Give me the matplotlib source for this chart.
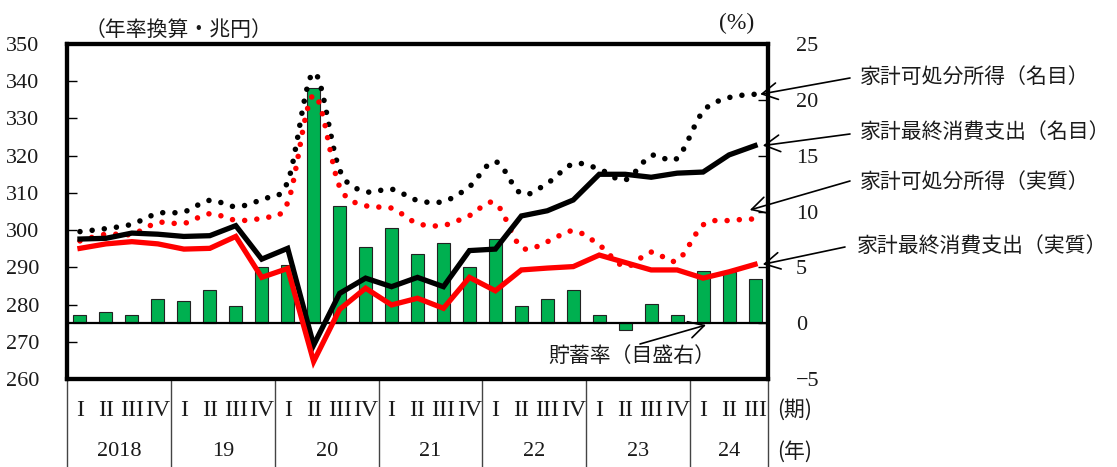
import matplotlib
matplotlib.use("Agg")
import matplotlib.pyplot as plt
from matplotlib.path import Path
from matplotlib.patches import PathPatch
from matplotlib.transforms import blended_transform_factory

# ---- data (2018 Q1 .. 2024 Q3) ----
years = ["2018", "19", "20", "21", "22", "23", "24"]
quarter_names = ["I", "II", "III", "IV"]
n_quarters = 27

# 家計可処分所得（名目） 兆円
income_nominal = [299.6, 300.4, 301.6, 304.5, 304.9, 308.0, 306.3, 308.3, 313.0,
                  342.3, 316.2, 310.4, 311.0, 308.0, 307.7, 311.7, 318.4, 309.8,
                  312.6, 317.8, 316.4, 313.5, 320.0, 319.3, 331.9, 335.6, 336.5]
# 家計最終消費支出（名目）
consumption_nominal = [297.6, 297.8, 299.2, 298.9, 298.3, 298.5, 301.2, 292.2, 295.1,
                       269.1, 283.0, 287.1, 284.8, 287.3, 284.8, 294.5, 294.9, 303.8,
                       305.2, 308.1, 315.0, 315.0, 314.2, 315.3, 315.6, 320.2, 322.7]
# 家計可処分所得（実質）
income_real = [297.1, 298.9, 298.9, 302.0, 301.8, 304.4, 302.7, 303.3, 307.4,
               336.3, 311.7, 306.6, 305.9, 301.8, 301.3, 303.9, 307.2, 295.4,
               296.9, 299.8, 296.0, 290.2, 294.1, 291.8, 301.4, 302.6, 303.0]
# 家計最終消費支出（実質）
consumption_real = [295.1, 296.3, 296.9, 296.3, 294.9, 295.1, 298.3, 287.3, 289.7,
                    264.7, 278.7, 284.4, 279.9, 281.7, 279.0, 287.3, 283.7, 289.3,
                    289.8, 290.2, 293.3, 291.3, 289.3, 289.3, 287.1, 288.8, 290.8]
# 貯蓄率 (%)
saving_rate = [0.7, 1.0, 0.7, 2.2, 2.0, 3.0, 1.5, 5.0, 5.2,
               21.1, 10.5, 6.8, 8.5, 6.15, 7.2, 5.0, 7.5, 1.5,
               2.2, 3.0, 0.7, -0.6, 1.7, 0.7, 4.7, 4.6, 4.0]

left_ticks = [260, 270, 280, 290, 300, 310, 320, 330, 340, 350]
right_ticks = [-5, 0, 5, 10, 15, 20, 25]

SERIF = ["Liberation Serif", "Noto Sans CJK JP"]
JP = ["Noto Sans CJK JP", "DejaVu Sans"]
TXT = "#1a1a1a"

W, H = 1117, 467
fig = plt.figure(figsize=(W / 100, H / 100), dpi=100)
ax = fig.add_axes([67 / W, 1 - 379 / H, (768 - 67) / W, (379 - 44) / H])
ax2 = ax.twinx()
x = list(range(n_quarters))

# bars: saving rate on the right-hand scale
ax.bar(x, saving_rate, width=0.5, color="#00B050", edgecolor="#222222",
       linewidth=0.8, zorder=2)
ax.axhline(0, color="black", lw=1.6, zorder=3)
ax.set_ylim(-5, 25)
ax.set_xlim(-0.5, n_quarters - 0.5)
ax.set_xticks([])
ax.yaxis.tick_right()
ax.set_yticks(right_ticks)
ax.set_yticklabels([("−" + str(-v)) if v < 0 else str(v) for v in right_ticks],
                   family=SERIF, fontsize=16, color=TXT)
ax.tick_params(axis="y", direction="in", length=7, width=1, pad=20)
for s in ax.spines.values():
    s.set_linewidth(3.0)

# lines on the left-hand scale
ax2.set_ylim(260, 350)
ax2.set_xlim(-0.5, n_quarters - 0.5)
ax2.set_xticks([])
ax2.yaxis.tick_left()
ax2.set_yticks(left_ticks)
ax2.set_yticklabels([str(v) for v in left_ticks], family=SERIF, fontsize=16, color=TXT)
ax2.tick_params(axis="y", direction="in", length=7, width=1, pad=20)
for s in ax2.spines.values():
    s.set_linewidth(3.0)


def smooth_path(xs, ys):
    """Catmull-Rom style cubic Bezier path through the points."""
    verts = [(xs[0], ys[0])]
    codes = [Path.MOVETO]
    n = len(xs)
    for i in range(n - 1):
        p0 = (xs[i - 1], ys[i - 1]) if i > 0 else (xs[i], ys[i])
        p1 = (xs[i], ys[i])
        p2 = (xs[i + 1], ys[i + 1])
        p3 = (xs[i + 2], ys[i + 2]) if i + 2 < n else p2
        c1 = (p1[0] + (p2[0] - p0[0]) / 6, p1[1] + (p2[1] - p0[1]) / 6)
        c2 = (p2[0] - (p3[0] - p1[0]) / 6, p2[1] - (p3[1] - p1[1]) / 6)
        verts += [c1, c2, p2]
        codes += [Path.CURVE4] * 3
    return Path(verts, codes)


for series, color in [(income_nominal, "black"), (income_real, "#FF0000")]:
    patch = PathPatch(smooth_path(x, series), fill=False, edgecolor=color,
                      linewidth=4.0, linestyle=(0, (0.001, 2.2)),
                      transform=ax2.transData, zorder=4)
    patch.set_capstyle("round")
    ax2.add_patch(patch)

ax2.plot(x, consumption_nominal, color="black", lw=3.8, solid_joinstyle="miter", zorder=5)
ax2.plot(x, consumption_real, color="#FF0000", lw=3.8, solid_joinstyle="miter", zorder=5)

# category table below the plot
tb = blended_transform_factory(ax.transData, ax.transAxes)
bottom_frac = -(H - 379) / (379 - 44) - 0.02
for b in [-0.5 + 4 * k for k in range(7)] + [n_quarters - 0.5]:
    ax.plot([b, b], [0, bottom_frac], transform=tb, color="#444444", lw=1.0,
            clip_on=False, zorder=1)
q_y = -(410 - 379) / (379 - 44)
y_y = -(452 - 379) / (379 - 44)
for i in range(n_quarters):
    ax.text(i, q_y, quarter_names[i % 4], transform=tb, ha="center", va="center",
            family=SERIF, fontsize=17, color=TXT)
for k, yr in enumerate(years):
    start = 4 * k
    end = min(4 * k + 3, n_quarters - 1)
    ax.text((start + end) / 2, y_y, yr, transform=tb, ha="center", va="center",
            family=SERIF, fontsize=16, color=TXT)
fig.text(777 / W, 1 - 410 / H, "(期)", family=JP, fontsize=15, ha="left",
         va="center", color=TXT)
fig.text(777 / W, 1 - 452 / H, "(年)", family=JP, fontsize=15, ha="left",
         va="center", color=TXT)

# unit captions
fig.text(85 / W, 1 - 30 / H, "（年率換算・兆円）", family=JP, fontsize=15,
         ha="left", va="center", color=TXT)
fig.text(737 / W, 1 - 23 / H, "(%)", family=SERIF, fontsize=17,
         ha="center", va="center", color=TXT)

# series labels with arrows
arrow = dict(arrowstyle="->,head_length=0.55,head_width=0.3", color="black",
             lw=1.2, mutation_scale=20, shrinkA=0, shrinkB=0)
labels = [
    ("家計可処分所得（名目）", 860, 77, (850, 78), (26.2, income_nominal[-1])),
    ("家計最終消費支出（名目）", 860, 133, (850, 134), (26.3, consumption_nominal[-1])),
    ("家計可処分所得（実質）", 860, 182, (850, 181), (25.8, income_real[-1] + 2.4)),
    ("家計最終消費支出（実質）", 857, 247, (845, 247), (26.3, consumption_real[-1])),
]
for text, tx, ty, tail, tip in labels:
    fig.text(tx / W, 1 - ty / H, text, family=JP, fontsize=15, ha="left",
             va="center", color=TXT)
    ax2.annotate("", xy=tip, xycoords="data",
                 xytext=(tail[0], H - tail[1]), textcoords="figure pixels",
                 arrowprops=arrow, annotation_clip=False)

fig.text(548 / W, 1 - 356 / H, "貯蓄率（目盛右）", family=JP, fontsize=15,
         ha="left", va="center", color=TXT)
ax2.annotate("", xy=(706, H - 325), xycoords="figure pixels",
             xytext=(640, H - 344), textcoords="figure pixels", arrowprops=arrow)

fig.savefig("out.png", dpi=100)
